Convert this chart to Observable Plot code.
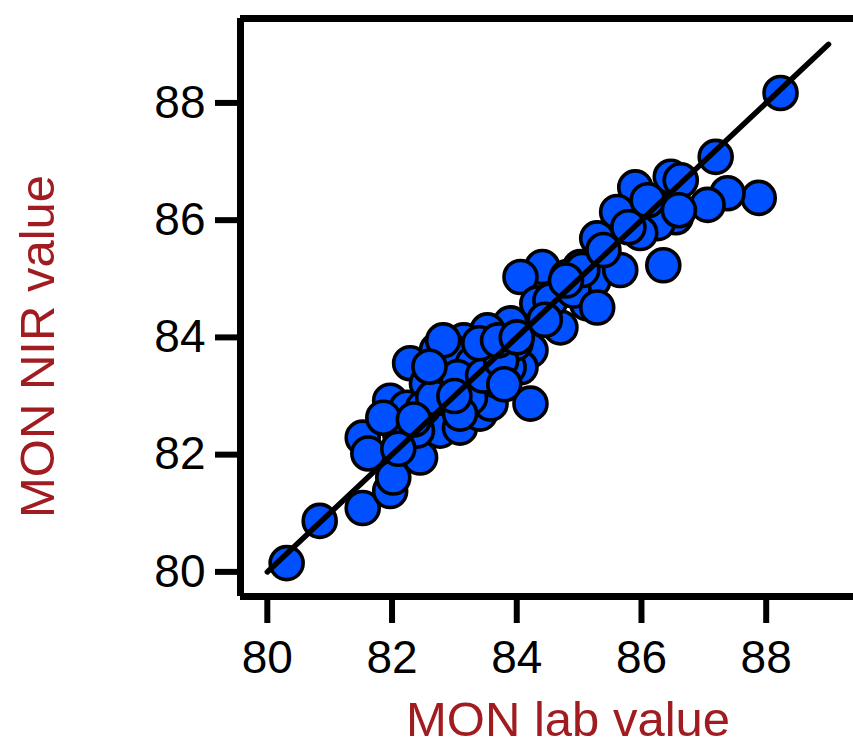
<!DOCTYPE html>
<html>
<head>
<meta charset="utf-8">
<script src="https://cdn.jsdelivr.net/npm/d3@7"></script>
<script src="https://cdn.jsdelivr.net/npm/@observablehq/plot@0.6"></script>
<style>
  html, body { margin: 0; padding: 0; background: #fff; }
  #chart svg { display: block; }
</style>
</head>
<body>
<div id="chart"></div>
<script>
// Lab (x) vs NIR (y) values
const labValues = [
  80.31, 80.84, 81.53, 81.97, 82.02, 82.45, 81.53, 81.62, 81.97, 82.29,
  82.72, 82.24, 82.13, 82.77, 82.56, 82.88, 83.09, 83.30, 83.20, 83.41,
  82.40, 81.86, 82.50, 82.98, 84.41, 84.06, 85.02, 84.81, 84.33, 84.70,
  85.13, 85.23, 84.22, 84.06, 84.22, 83.58, 83.25, 83.69, 83.90, 83.53,
  83.15, 82.93, 82.82, 83.30, 83.05, 83.09, 84.54, 84.91, 87.19, 87.88,
  87.38, 87.06, 86.47, 85.90, 86.55, 86.26, 85.61, 86.10, 85.29, 85.66,
  86.35, 85.98, 85.05, 85.39, 85.79, 88.23, 85.29, 84.79, 86.63, 83.87,
  83.62, 83.46, 83.98, 82.66, 83.75, 84.45, 82.10, 83.40, 83.70, 84.00,
  82.60, 83.00, 82.35, 83.80, 86.60
];
const nirValues = [
  80.15, 80.87, 81.09, 81.38, 81.61, 81.95, 82.29, 82.02, 82.92, 83.56,
  83.78, 82.80, 82.36, 82.41, 83.21, 83.21, 82.46, 82.97, 83.78, 82.70,
  82.41, 82.63, 82.80, 83.49, 85.20, 85.03, 85.20, 85.03, 84.58, 84.17,
  84.58, 84.97, 83.78, 83.49, 82.87, 82.87, 82.97, 83.26, 84.24, 84.12,
  83.95, 83.78, 83.95, 83.56, 83.32, 82.70, 84.63, 84.80, 87.08, 86.38,
  86.46, 86.26, 86.74, 86.56, 86.05, 85.95, 86.14, 86.34, 85.69, 85.15,
  85.23, 85.78, 85.15, 85.49, 85.88, 88.17, 84.51, 84.97, 86.68, 83.49,
  83.70, 83.35, 83.90, 82.97, 83.60, 84.30, 82.10, 83.90, 83.95, 84.00,
  83.50, 83.00, 82.60, 83.20, 86.17
];
const fitLineX = [80, 89];
const fitLineY = [80, 89];
const xTicks = [80, 82, 84, 86, 88];
const yTicks = [80, 82, 84, 86, 88];
const xDomain = [79.57, 89.4];
const yDomain = [79.58, 89.44];
const xLabel = "MON lab value";
const yLabel = "MON NIR value";

const points = labValues.map((x, i) => ({x, y: nirValues[i]}));
const fitLine = fitLineX.map((x, i) => ({x, y: fitLineY[i]}));

const labelColor = "#a01c20";
const font = "Liberation Sans, Arial, Helvetica, sans-serif";

const chart = Plot.plot({
  width: 853,
  height: 745,
  marginLeft: 240,
  marginRight: 0,
  marginTop: 18,
  marginBottom: 149,
  style: {fontFamily: font, background: "#fff", overflow: "visible"},
  x: {domain: xDomain},
  y: {domain: yDomain},
  marks: [
    Plot.dot(points, {x: "x", y: "y", r: 16.5, fill: "#0050ff", stroke: "#000", strokeWidth: 3.6}),
    Plot.line(fitLine, {x: "x", y: "y", stroke: "#000", strokeWidth: 5.5}),
    Plot.ruleY([yDomain[1]], {stroke: "#000", strokeWidth: 7}),
    Plot.ruleY([yDomain[0]], {stroke: "#000", strokeWidth: 7}),
    Plot.ruleX([xDomain[0]], {stroke: "#000", strokeWidth: 7}),
    Plot.axisX({ticks: xTicks, tickFormat: d => String(d), tickSize: 27, tickPadding: 17, strokeWidth: 6, fontSize: 46, label: null, color: "#000"}),
    Plot.axisY({ticks: yTicks, tickFormat: d => String(d), tickSize: 25, tickPadding: 10, strokeWidth: 6, fontSize: 46, label: null, color: "#000"}),
    Plot.text([xLabel], {frameAnchor: "bottom", text: d => d, dx: 21, dy: 124, fontSize: 49, fill: labelColor, textAnchor: "middle", lineAnchor: "middle"}),
    Plot.text([yLabel], {frameAnchor: "left", text: d => d, dx: -202, dy: 39, rotate: -90, fontSize: 49, fill: labelColor, textAnchor: "middle", lineAnchor: "middle"})
  ]
});
document.getElementById("chart").appendChild(chart);
</script>
</body>
</html>
